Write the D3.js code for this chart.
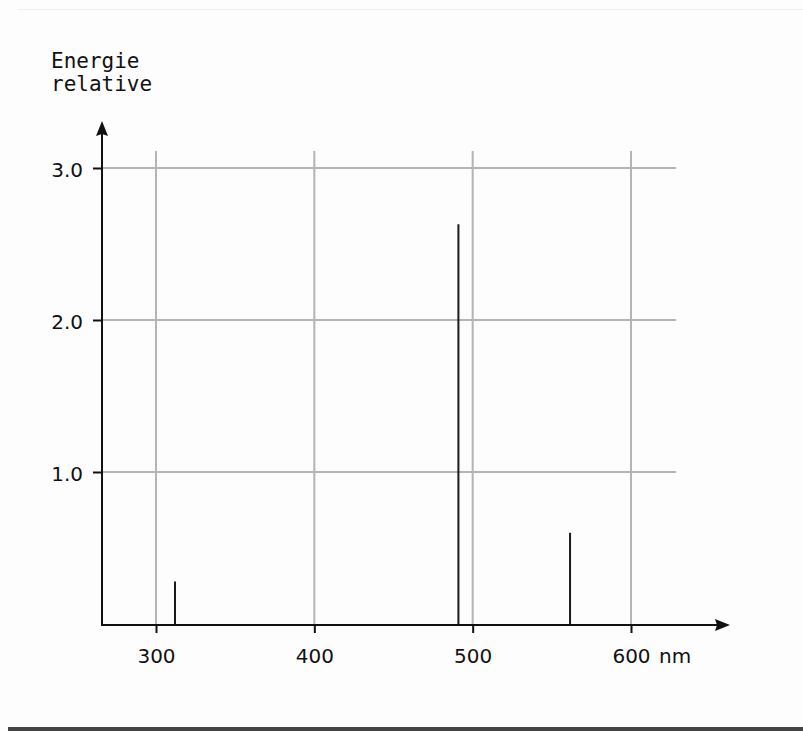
<!DOCTYPE html>
<html>
<head>
<meta charset="utf-8">
<script src="https://cdn.jsdelivr.net/npm/d3@7"></script>
<style>
  body { margin: 0; background: #fdfdfd; }
  svg { display: block; }
  text { font-family: "DejaVu Sans", sans-serif; fill: #111; }
</style>
</head>
<body>
<script>
// spectral lines
var wavelengths = [312, 491, 561.5];
var energies = [0.28, 2.63, 0.6];
var xTicks = [300, 400, 500, 600];
var yTicks = [1, 2, 3];
var yTickLabels = ["1.0", "2.0", "3.0"];

var width = 803, height = 731;

var x = d3.scaleLinear().domain([300, 600]).range([156, 631]);
var y = d3.scaleLinear().domain([0, 3]).range([624, 168]);

var svg = d3.select("body").append("svg")
    .attr("width", width)
    .attr("height", height);

// frame bits
svg.append("line")
    .attr("x1", 18).attr("x2", 803).attr("y1", 9.5).attr("y2", 9.5)
    .attr("stroke", "#eeeeee").attr("stroke-width", 1);
svg.append("rect")
    .attr("x", 8).attr("y", 727).attr("width", 795).attr("height", 4)
    .attr("fill", "#444");

var plotLeft = 102, plotRight = 676, gridTop = 151, axisY = 625;

// grid
svg.append("g").selectAll("line").data(xTicks).enter().append("line")
    .attr("x1", function(d) { return x(d); })
    .attr("x2", function(d) { return x(d); })
    .attr("y1", gridTop).attr("y2", axisY)
    .attr("stroke", "#b4b4b4").attr("stroke-width", 2);

svg.append("g").selectAll("line").data(yTicks).enter().append("line")
    .attr("x1", plotLeft).attr("x2", plotRight)
    .attr("y1", function(d) { return y(d); })
    .attr("y2", function(d) { return y(d); })
    .attr("stroke", "#b4b4b4").attr("stroke-width", 2);

// spectral lines
svg.append("g").selectAll("line").data(wavelengths).enter().append("line")
    .attr("x1", function(d) { return x(d); })
    .attr("x2", function(d) { return x(d); })
    .attr("y1", axisY)
    .attr("y2", function(d, i) { return y(energies[i]); })
    .attr("stroke", "#1a1a1a").attr("stroke-width", 2);

// x axis
var xAxis = d3.axisBottom(x).tickValues(xTicks).tickSize(8)
    .tickFormat(d3.format("d"));
var gx = svg.append("g").attr("transform", "translate(0," + axisY + ")").call(xAxis);
gx.select(".domain").remove();
gx.selectAll(".tick line").attr("stroke", "#111").attr("stroke-width", 2);
gx.selectAll(".tick text").attr("y", 38).attr("dy", null)
    .style("font-size", "20px").style("fill", "#111");
svg.append("text").attr("x", 659).attr("y", 663)
    .style("font-size", "20px").text("nm");

// y axis
var yAxis = d3.axisLeft(y).tickValues(yTicks).tickSize(9).tickPadding(10)
    .tickFormat(function(d, i) { return yTickLabels[i]; });
var gy = svg.append("g").attr("transform", "translate(" + plotLeft + ",0)").call(yAxis);
gy.select(".domain").remove();
gy.selectAll(".tick line").attr("stroke", "#111").attr("stroke-width", 2);
gy.selectAll(".tick text").attr("dy", "0.4em")
    .style("font-size", "20px").style("fill", "#111");

// axis lines with arrows
svg.append("line").attr("x1", plotLeft - 1).attr("x2", 718).attr("y1", axisY).attr("y2", axisY)
    .attr("stroke", "#111").attr("stroke-width", 2);
svg.append("path").attr("d", "M730," + axisY + " L715," + (axisY - 6) + " L717," + axisY + " L715," + (axisY + 6) + "Z")
    .attr("fill", "#111");
svg.append("line").attr("x1", plotLeft).attr("x2", plotLeft).attr("y1", axisY + 1).attr("y2", 134)
    .attr("stroke", "#111").attr("stroke-width", 2);
svg.append("path").attr("d", "M" + plotLeft + ",121 L" + (plotLeft - 6) + ",136 L" + plotLeft + ",134 L" + (plotLeft + 6) + ",136Z")
    .attr("fill", "#111");

// title
svg.append("text").attr("x", 51).attr("y", 68)
    .style("font-family", "'DejaVu Sans Mono', monospace").style("font-size", "21px")
    .text("Energie");
svg.append("text").attr("x", 51).attr("y", 91)
    .style("font-family", "'DejaVu Sans Mono', monospace").style("font-size", "21px")
    .text("relative");
</script>
</body>
</html>
